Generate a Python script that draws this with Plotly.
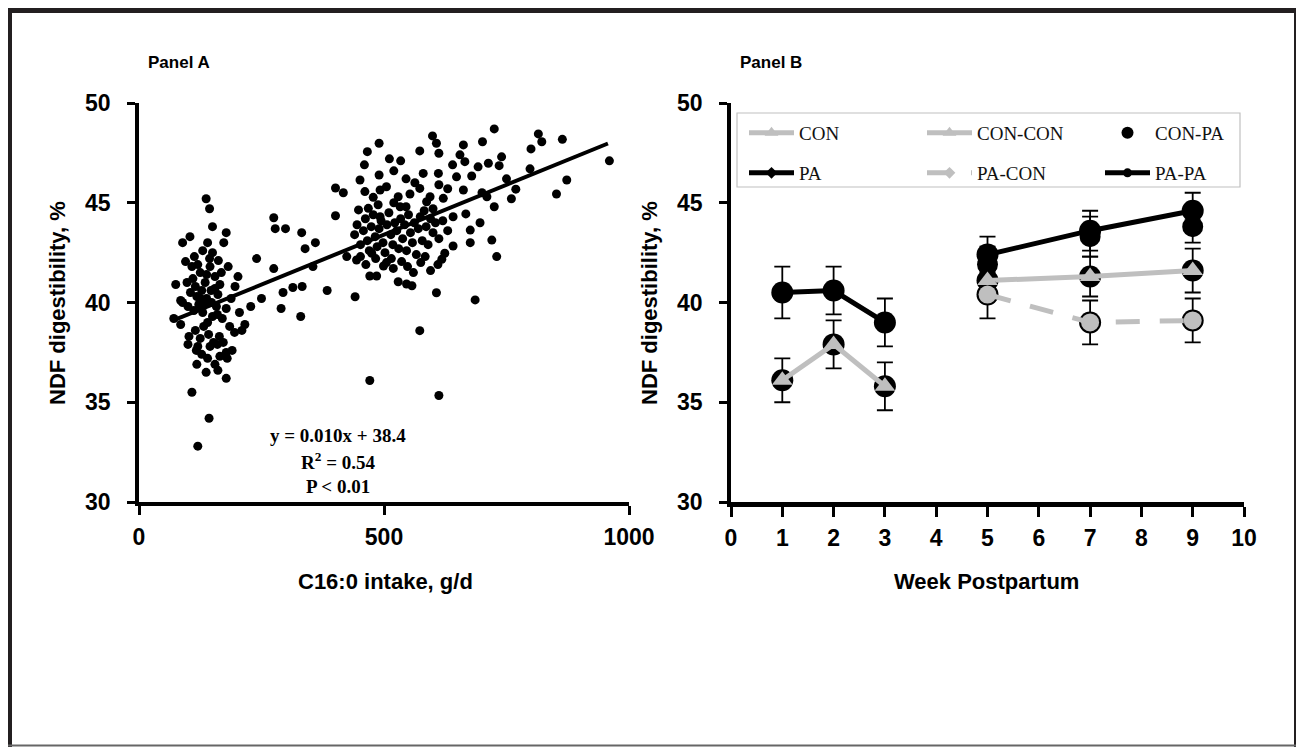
import plotly.graph_objects as go

# page has an 8px body margin; figure fills the rest of the 1304x747 window
PAGE_OFF = 8
W, H = 1304 - PAGE_OFF, 747 - PAGE_OFF

# ---------------- Panel A data ----------------
scatter_x = [
    75, 89, 71, 85, 85, 89, 104, 113, 95, 137, 144, 144, 162, 168, 202, 178, 173, 108, 143, 120,
    102, 120, 140, 178, 180, 137, 161, 178, 216, 195, 164, 178, 161,
    110, 115, 118, 122, 125, 128, 130, 132, 135, 138, 140, 142, 145, 148, 150, 152, 155, 158, 160,
    125, 115, 112, 105, 100, 130, 140, 120, 150, 155, 165, 170, 172, 185, 188, 128, 145, 155, 165,
    190, 118, 133, 147, 125, 138, 160, 108, 98, 205, 210, 100, 117, 150, 182, 196,
    275, 278, 299, 332, 339, 401, 275, 294, 314, 333, 384, 401, 417, 330, 290, 240, 250, 228, 360, 355,
    599, 607, 612, 573, 490, 466, 511, 534, 662, 701, 655, 665, 611, 580, 563, 573, 490, 451, 461, 492,
    505, 478, 529, 553, 594, 621, 587, 533, 448, 468, 492, 641, 676, 676, 641, 624, 618, 584, 444, 424,
    475, 499, 519, 536, 471, 485, 529, 546, 557, 607, 441, 573, 471, 612, 648, 679, 662, 667, 696, 720,
    730, 725, 692, 713, 735, 686,
    440, 445, 452, 458, 462, 466, 470, 474, 478, 482, 486, 490, 494, 498, 502, 506, 510, 514, 518, 522,
    526, 530, 534, 538, 542, 546, 550, 554, 558, 562, 566, 570, 574, 578, 582, 586, 590, 595, 600, 605,
    612, 620, 630, 452, 463, 515, 548, 560, 575, 595, 610, 488, 520, 545, 600, 612, 630, 640, 520, 545,
    460, 505, 483,
    725, 815, 822, 800, 864, 960, 873, 852, 769, 798, 750, 760, 700, 710, 740,
]
scatter_y = [
    40.9, 40.0, 39.2, 38.9, 40.1, 43.0, 43.3, 42.3, 42.05, 45.2, 44.7, 42.2, 42.1, 41.5, 41.3, 43.5, 43.0, 35.5, 34.2, 32.8,
    38.3, 37.8, 37.2, 37.5, 37.2, 36.5, 36.6, 36.2, 38.9, 38.5, 38.3, 39.7, 40.4,
    41.2, 40.8, 40.3, 39.9, 41.5, 40.6, 39.5, 38.8, 41.0, 40.2, 39.0, 38.4, 41.8, 40.0, 39.3, 38.0, 40.7, 39.8, 37.9,
    38.2, 38.6, 39.6, 40.5, 39.8, 42.6, 43.0, 41.9, 42.5, 41.3, 40.9, 39.2, 38.0, 38.8, 40.2, 37.4, 37.8, 36.9, 37.3,
    37.6, 36.9, 39.9, 40.6, 40.2, 41.4, 39.4, 41.8, 41.0, 39.5, 38.6, 37.9, 37.6, 43.8, 41.8, 40.8,
    44.25, 43.7, 43.7, 43.5, 42.7, 44.35, 41.7, 40.5, 40.75, 40.8, 40.6, 45.74, 45.5, 39.3, 39.7, 42.2, 40.2, 39.8, 43.0, 41.8,
    48.35, 47.98, 47.48, 47.6, 47.98, 47.56, 47.2, 47.1, 47.9, 48.06, 47.4, 47.06, 46.47, 46.47, 46.0, 45.72, 46.39, 46.14, 45.56, 45.64,
    45.8, 45.27, 45.3, 45.44, 45.3, 45.22, 45.05, 44.8, 44.64, 44.72, 44.3, 44.3, 43.63, 43.0, 42.83, 42.47, 42.17, 42.3, 42.13, 42.3,
    42.47, 41.83, 41.71, 42.05, 41.33, 41.33, 41.04, 40.93, 40.84, 40.49, 40.29, 38.59, 36.09, 35.34, 46.3, 46.34, 45.64, 44.44, 44.0, 43.13,
    42.3, 44.8, 46.8, 46.98, 46.86, 40.13,
    43.4, 43.9, 42.9, 43.6, 44.2, 43.1, 42.6, 43.8, 44.4, 43.3, 42.8, 43.7, 44.1, 43.0, 42.5, 43.9, 44.5, 43.4, 42.9, 44.0,
    43.6, 42.7, 44.2, 43.2, 43.9, 42.6, 44.4, 43.5, 43.0, 44.0, 42.4, 43.7, 44.3, 43.1, 44.6, 43.8, 42.9, 44.2, 43.5, 44.0,
    43.2, 44.1, 43.6, 42.3, 41.9, 42.2, 41.8, 41.5, 42.0, 41.6, 41.9, 44.9, 45.0, 44.8, 44.7, 45.9, 45.7, 46.9, 46.6, 46.2,
    46.9, 42.0, 42.2,
    48.7, 48.45, 48.06, 47.7, 48.18, 47.1, 46.14, 45.44, 45.68, 46.7, 46.2, 45.2, 45.5, 45.3, 47.3,
]
fit_slope = 0.010
fit_intercept = 38.4
fit_x = [70, 957]
fit_y = [fit_slope * v + fit_intercept for v in fit_x]

xA_ticks = [0, 500, 1000]
y_ticks = [30, 35, 40, 45, 50]
xB_ticks = list(range(0, 11))

# ---------------- Panel B data ----------------
early_weeks = [1, 2, 3]
late_weeks = [5, 7, 9]

con_y = [36.1, 37.9, 35.8]
con_err = [1.1, 1.2, 1.2]
pa_y = [40.5, 40.6, 39.0]
pa_err = [1.3, 1.2, 1.2]

papa_y = [42.4, 43.6, 44.6]
papa_err = [0.9, 1.0, 0.9]
conpa_y = [41.9, 43.3, 43.8]
conpa_err = [0.9, 1.0, 0.8]
concon_y = [41.1, 41.3, 41.6]
concon_err = [1.0, 1.0, 1.1]
pacon_y = [40.4, 39.0, 39.1]
pacon_err = [1.2, 1.1, 1.1]

GRAY = "#bfbfbf"
BLACK = "#000000"


def px_x(p):
    return (p - PAGE_OFF) / W


def px_y(p):
    return 1 - (p - PAGE_OFF) / H


fig = go.Figure()

# Panel A
fig.add_trace(go.Scatter(x=scatter_x, y=scatter_y, mode="markers",
                         marker=dict(color=BLACK, size=9, symbol="circle"),
                         showlegend=False, xaxis="x", yaxis="y"))
fig.add_trace(go.Scatter(x=fit_x, y=fit_y, mode="lines",
                         line=dict(color=BLACK, width=4),
                         showlegend=False, xaxis="x", yaxis="y"))


def err(arr):
    return dict(type="data", array=arr, visible=True, color=BLACK, thickness=1.8, width=8)


# Panel B: black base markers with error bars
base_series = [
    (early_weeks, pa_y, pa_err),
    (early_weeks, con_y, con_err),
    (late_weeks, papa_y, papa_err),
    (late_weeks, concon_y, concon_err),
    (late_weeks, pacon_y, pacon_err),
]
for wk, yy, ee in base_series:
    fig.add_trace(go.Scatter(x=wk, y=yy, mode="markers", error_y=err(ee),
                             marker=dict(color=BLACK, size=22, symbol="circle"),
                             showlegend=False, xaxis="x2", yaxis="y2", hoverinfo="skip"))

# Series (legend entries)
fig.add_trace(go.Scatter(x=early_weeks, y=con_y, name="CON", mode="lines+markers",
                         line=dict(color=GRAY, width=5), marker=dict(symbol="triangle-up", size=9, color=GRAY),
                         legend="legend", legendrank=1, xaxis="x2", yaxis="y2"))
fig.add_trace(go.Scatter(x=late_weeks, y=concon_y, name="CON-CON", mode="lines+markers",
                         line=dict(color=GRAY, width=5), marker=dict(symbol="triangle-up", size=9, color=GRAY),
                         legend="legend", legendrank=2, xaxis="x2", yaxis="y2"))
fig.add_trace(go.Scatter(x=late_weeks, y=conpa_y, name="CON-PA", mode="markers", error_y=err(conpa_err),
                         marker=dict(symbol="circle", size=21, color=BLACK),
                         legend="legend", legendrank=3, xaxis="x2", yaxis="y2"))
fig.add_trace(go.Scatter(x=early_weeks, y=pa_y, name="PA", mode="lines+markers",
                         line=dict(color=BLACK, width=5), marker=dict(symbol="diamond", size=9, color=BLACK),
                         legend="legend2", legendrank=4, xaxis="x2", yaxis="y2"))
fig.add_trace(go.Scatter(x=late_weeks, y=pacon_y, name="PA-CON", mode="lines+markers",
                         line=dict(color=GRAY, width=5, dash="24px,20px"),
                         marker=dict(symbol="diamond", size=9, color=GRAY),
                         legend="legend2", legendrank=5, xaxis="x2", yaxis="y2"))
fig.add_trace(go.Scatter(x=late_weeks, y=papa_y, name="PA-PA", mode="lines+markers",
                         line=dict(color=BLACK, width=5), marker=dict(symbol="circle", size=9, color=BLACK),
                         legend="legend2", legendrank=6, xaxis="x2", yaxis="y2"))

# Gray top markers
for wk, yy, sym in [(early_weeks, con_y, "triangle-up"), (late_weeks, concon_y, "triangle-up"),
                    (late_weeks, pacon_y, "circle")]:
    fig.add_trace(go.Scatter(x=wk, y=yy, mode="markers",
                             marker=dict(color=GRAY, size=18, symbol=sym),
                             showlegend=False, xaxis="x2", yaxis="y2", hoverinfo="skip"))

SANS = "Liberation Sans, Arial, sans-serif"
SERIF = "Liberation Serif, Times New Roman, serif"
tick_font = dict(family=SANS, size=23, color=BLACK, weight="bold")

common_y = dict(range=[30, 50], tickvals=y_ticks, showgrid=False, zeroline=False,
                showline=True, linecolor=BLACK, linewidth=3.5, ticks="outside", ticklen=8,
                tickwidth=2.5, tickcolor=BLACK, tickfont=tick_font, ticklabelstandoff=12,
                domain=[px_y(502), px_y(103)], automargin=False, fixedrange=True)

legend_common = dict(orientation="h", xanchor="left", yanchor="middle",
                     entrywidth=118, entrywidthmode="pixels", itemwidth=45,
                     font=dict(family=SERIF, size=19, color="#111111"),
                     bgcolor="rgba(0,0,0,0)", borderwidth=0, traceorder="normal")

fig.update_layout(
    width=W, height=H,
    margin=dict(l=0, r=0, t=0, b=0),
    paper_bgcolor="white", plot_bgcolor="white",
    xaxis=dict(domain=[px_x(139), px_x(629)], range=[0, 1000], tickvals=xA_ticks,
               showgrid=False, zeroline=False, showline=True, linecolor=BLACK, linewidth=3.5,
               ticks="outside", ticklen=9, tickwidth=2.5, tickcolor=BLACK, tickfont=tick_font,
               ticklabelstandoff=3, anchor="y", automargin=False),
    yaxis=dict(anchor="x", **common_y),
    xaxis2=dict(domain=[px_x(731), px_x(1244)], range=[0, 10], tickvals=xB_ticks,
                showgrid=False, zeroline=False, showline=True, linecolor=BLACK, linewidth=4.5,
                ticks="outside", ticklen=10, tickwidth=2.5, tickcolor=BLACK, tickfont=tick_font,
                ticklabelstandoff=2, anchor="y2", automargin=False),
    yaxis2=dict(anchor="x2", **common_y),
    legend=dict(x=px_x(744), y=px_y(133), itemsizing="constant", **legend_common),
    legend2=dict(x=px_x(744), y=px_y(173), **legend_common),
    showlegend=True,
)

# Frame and legend box
shapes = [
    dict(type="line", xref="paper", yref="paper", x0=px_x(8), x1=px_x(1300), y0=px_y(10.5), y1=px_y(10.5),
         line=dict(color="#231f20", width=5)),
    dict(type="line", xref="paper", yref="paper", x0=px_x(9.5), x1=px_x(9.5), y0=px_y(8), y1=px_y(747),
         line=dict(color="#231f20", width=5)),
    dict(type="line", xref="paper", yref="paper", x0=px_x(1296.5), x1=px_x(1296.5), y0=px_y(8), y1=px_y(747),
         line=dict(color="#231f20", width=5)),
    dict(type="line", xref="paper", yref="paper", x0=px_x(8), x1=px_x(1299), y0=px_y(745.5), y1=px_y(745.5),
         line=dict(color="#666666", width=2)),
    dict(type="rect", xref="paper", yref="paper", x0=px_x(737), x1=px_x(1240), y0=px_y(187), y1=px_y(113),
         line=dict(color="#c0c0c0", width=1.2), fillcolor="rgba(0,0,0,0)"),
]
fig.update_layout(shapes=shapes)

title_font = dict(family=SANS, size=22, color=BLACK, weight="bold")
eq_font = dict(family=SERIF, size=19, color=BLACK, weight="bold")
annots = [
    dict(text="Panel A", x=px_x(146), y=px_y(62), xanchor="left", yanchor="middle",
         font=dict(family=SANS, size=17, color=BLACK, weight="bold")),
    dict(text="Panel B", x=px_x(738), y=px_y(62), xanchor="left", yanchor="middle",
         font=dict(family=SANS, size=17, color=BLACK, weight="bold")),
    dict(text="C16:0 intake, g/d", x=px_x(385), y=px_y(581), xanchor="center", yanchor="middle",
         font=title_font),
    dict(text="Week Postpartum", x=px_x(986), y=px_y(581), xanchor="center", yanchor="middle",
         font=title_font),
    dict(text="NDF digestibility, %", x=px_x(57), y=px_y(303), xanchor="center", yanchor="middle",
         textangle=-90, font=title_font),
    dict(text="NDF digestibility, %", x=px_x(649), y=px_y(303), xanchor="center", yanchor="middle",
         textangle=-90, font=title_font),
    dict(text="y = 0.010x + 38.4", x=px_x(338), y=px_y(435), xanchor="center", yanchor="middle",
         font=eq_font),
    dict(text="R<sup>2</sup> = 0.54", x=px_x(338), y=px_y(461), xanchor="center", yanchor="middle",
         font=eq_font),
    dict(text="P &lt; 0.01", x=px_x(338), y=px_y(486), xanchor="center", yanchor="middle",
         font=eq_font),
]
for a in annots:
    a.update(xref="paper", yref="paper", showarrow=False)
fig.update_layout(annotations=annots)

fig.write_html("out.html")
